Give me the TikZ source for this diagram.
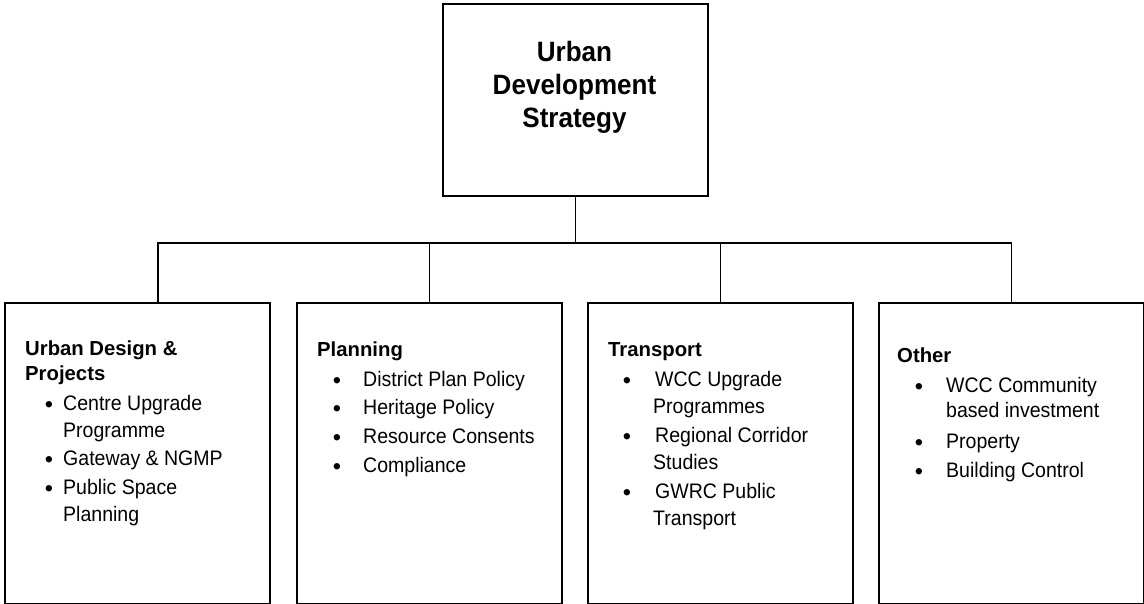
\documentclass[tikz,border=0pt]{standalone}
\usepackage{fontspec}
\setmainfont{Liberation Sans}
\newfontfamily\bodyfont[FakeStretch=0.93]{Liberation Sans}
\newfontfamily\titlefont[FakeStretch=0.93]{Liberation Sans}
\begin{document}
\begin{tikzpicture}[x=1pt,y=-1pt,
  box/.style={draw, line width=1.6pt, inner sep=0pt, anchor=north west,
              minimum width=265pt, minimum height=301pt},
  link/.style={line width=1.5pt},
  head/.style={anchor=base west, inner sep=0pt, font=\fontsize{20.3}{24}\selectfont\bfseries},
  entry/.style={anchor=base west, inner sep=0pt, font=\bodyfont\fontsize{21}{24}\selectfont},
  dot/.style={anchor=base, inner sep=0pt, yshift=-2pt, font=\fontsize{23.5}{24}\selectfont},
  ttl/.style={anchor=base, inner sep=0pt, font=\titlefont\fontsize{28}{33}\selectfont\bfseries}]
\useasboundingbox (0,0) rectangle (1144,604);

% top box
\node[box, minimum width=265pt, minimum height=192pt] (top) at (442,3) {};
\node[ttl] (ttl1) at (574.5,62) {Urban};
\node[ttl] (ttl2) at (574.5,95) {Development};
\node[ttl] (ttl3) at (574.5,128) {Strategy};

% four department boxes
\node[box] (b1) at (4,302) {};
\node[box] (b2) at (296,302) {};
\node[box] (b3) at (587,302) {};
\node[box] (b4) at (878,302) {};

% connectors
\coordinate (hub) at (top.south |- 0,243);
\draw[link] (top.south) -- (hub);
\draw[link] ([xshift=154pt]b1.north west) |- (hub);
\draw[link] (b2.north) |- (hub);
\draw[link] (b3.north) |- (hub);
\draw[link] (b4.north) |- (hub);

% Urban Design & Projects
\node[head] (h1a) at (25,355) {Urban Design \&};
\node[head] (h1b) at (25,380) {Projects};
\node[dot] (d1a) at (49,410) {•};
\node[entry] (e1a) at (63,410) {Centre Upgrade};
\node[entry] (e1b) at (63,437) {Programme};
\node[dot] (d1b) at (49,465) {•};
\node[entry] (e1c) at (63,465) {Gateway \& NGMP};
\node[dot] (d1c) at (49,494) {•};
\node[entry] (e1d) at (63,494) {Public Space};
\node[entry] (e1e) at (63,521) {Planning};

% Planning
\node[head] (h2) at (317,356) {Planning};
\foreach \txt [count=\i] in {District Plan Policy, Heritage Policy, Resource Consents, Compliance}{
  \node[dot] (d2\i) at (337,{386+28.7*(\i-1)}) {•};
  \node[entry] (e2\i) at (363,{386+28.7*(\i-1)}) {\txt};
}

% Transport
\node[head] (h3) at (608,356) {Transport};
\node[dot] (d3a) at (627,386) {•};
\node[entry] (e3a) at (655,386) {WCC Upgrade};
\node[entry] (e3b) at (653,413) {Programmes};
\node[dot] (d3b) at (627,442) {•};
\node[entry] (e3c) at (655,442) {Regional Corridor};
\node[entry] (e3d) at (653,469) {Studies};
\node[dot] (d3c) at (627,498) {•};
\node[entry] (e3e) at (655,498) {GWRC Public};
\node[entry] (e3f) at (653,525) {Transport};

% Other
\node[head] (h4) at (897,362) {Other};
\node[dot] (d4a) at (919,392) {•};
\node[entry] (e4a) at (946,392) {WCC Community};
\node[entry] (e4b) at (946,417) {based investment};
\node[dot] (d4b) at (919,448) {•};
\node[entry] (e4c) at (946,448) {Property};
\node[dot] (d4c) at (919,477) {•};
\node[entry] (e4d) at (946,477) {Building Control};
\end{tikzpicture}
\end{document}
